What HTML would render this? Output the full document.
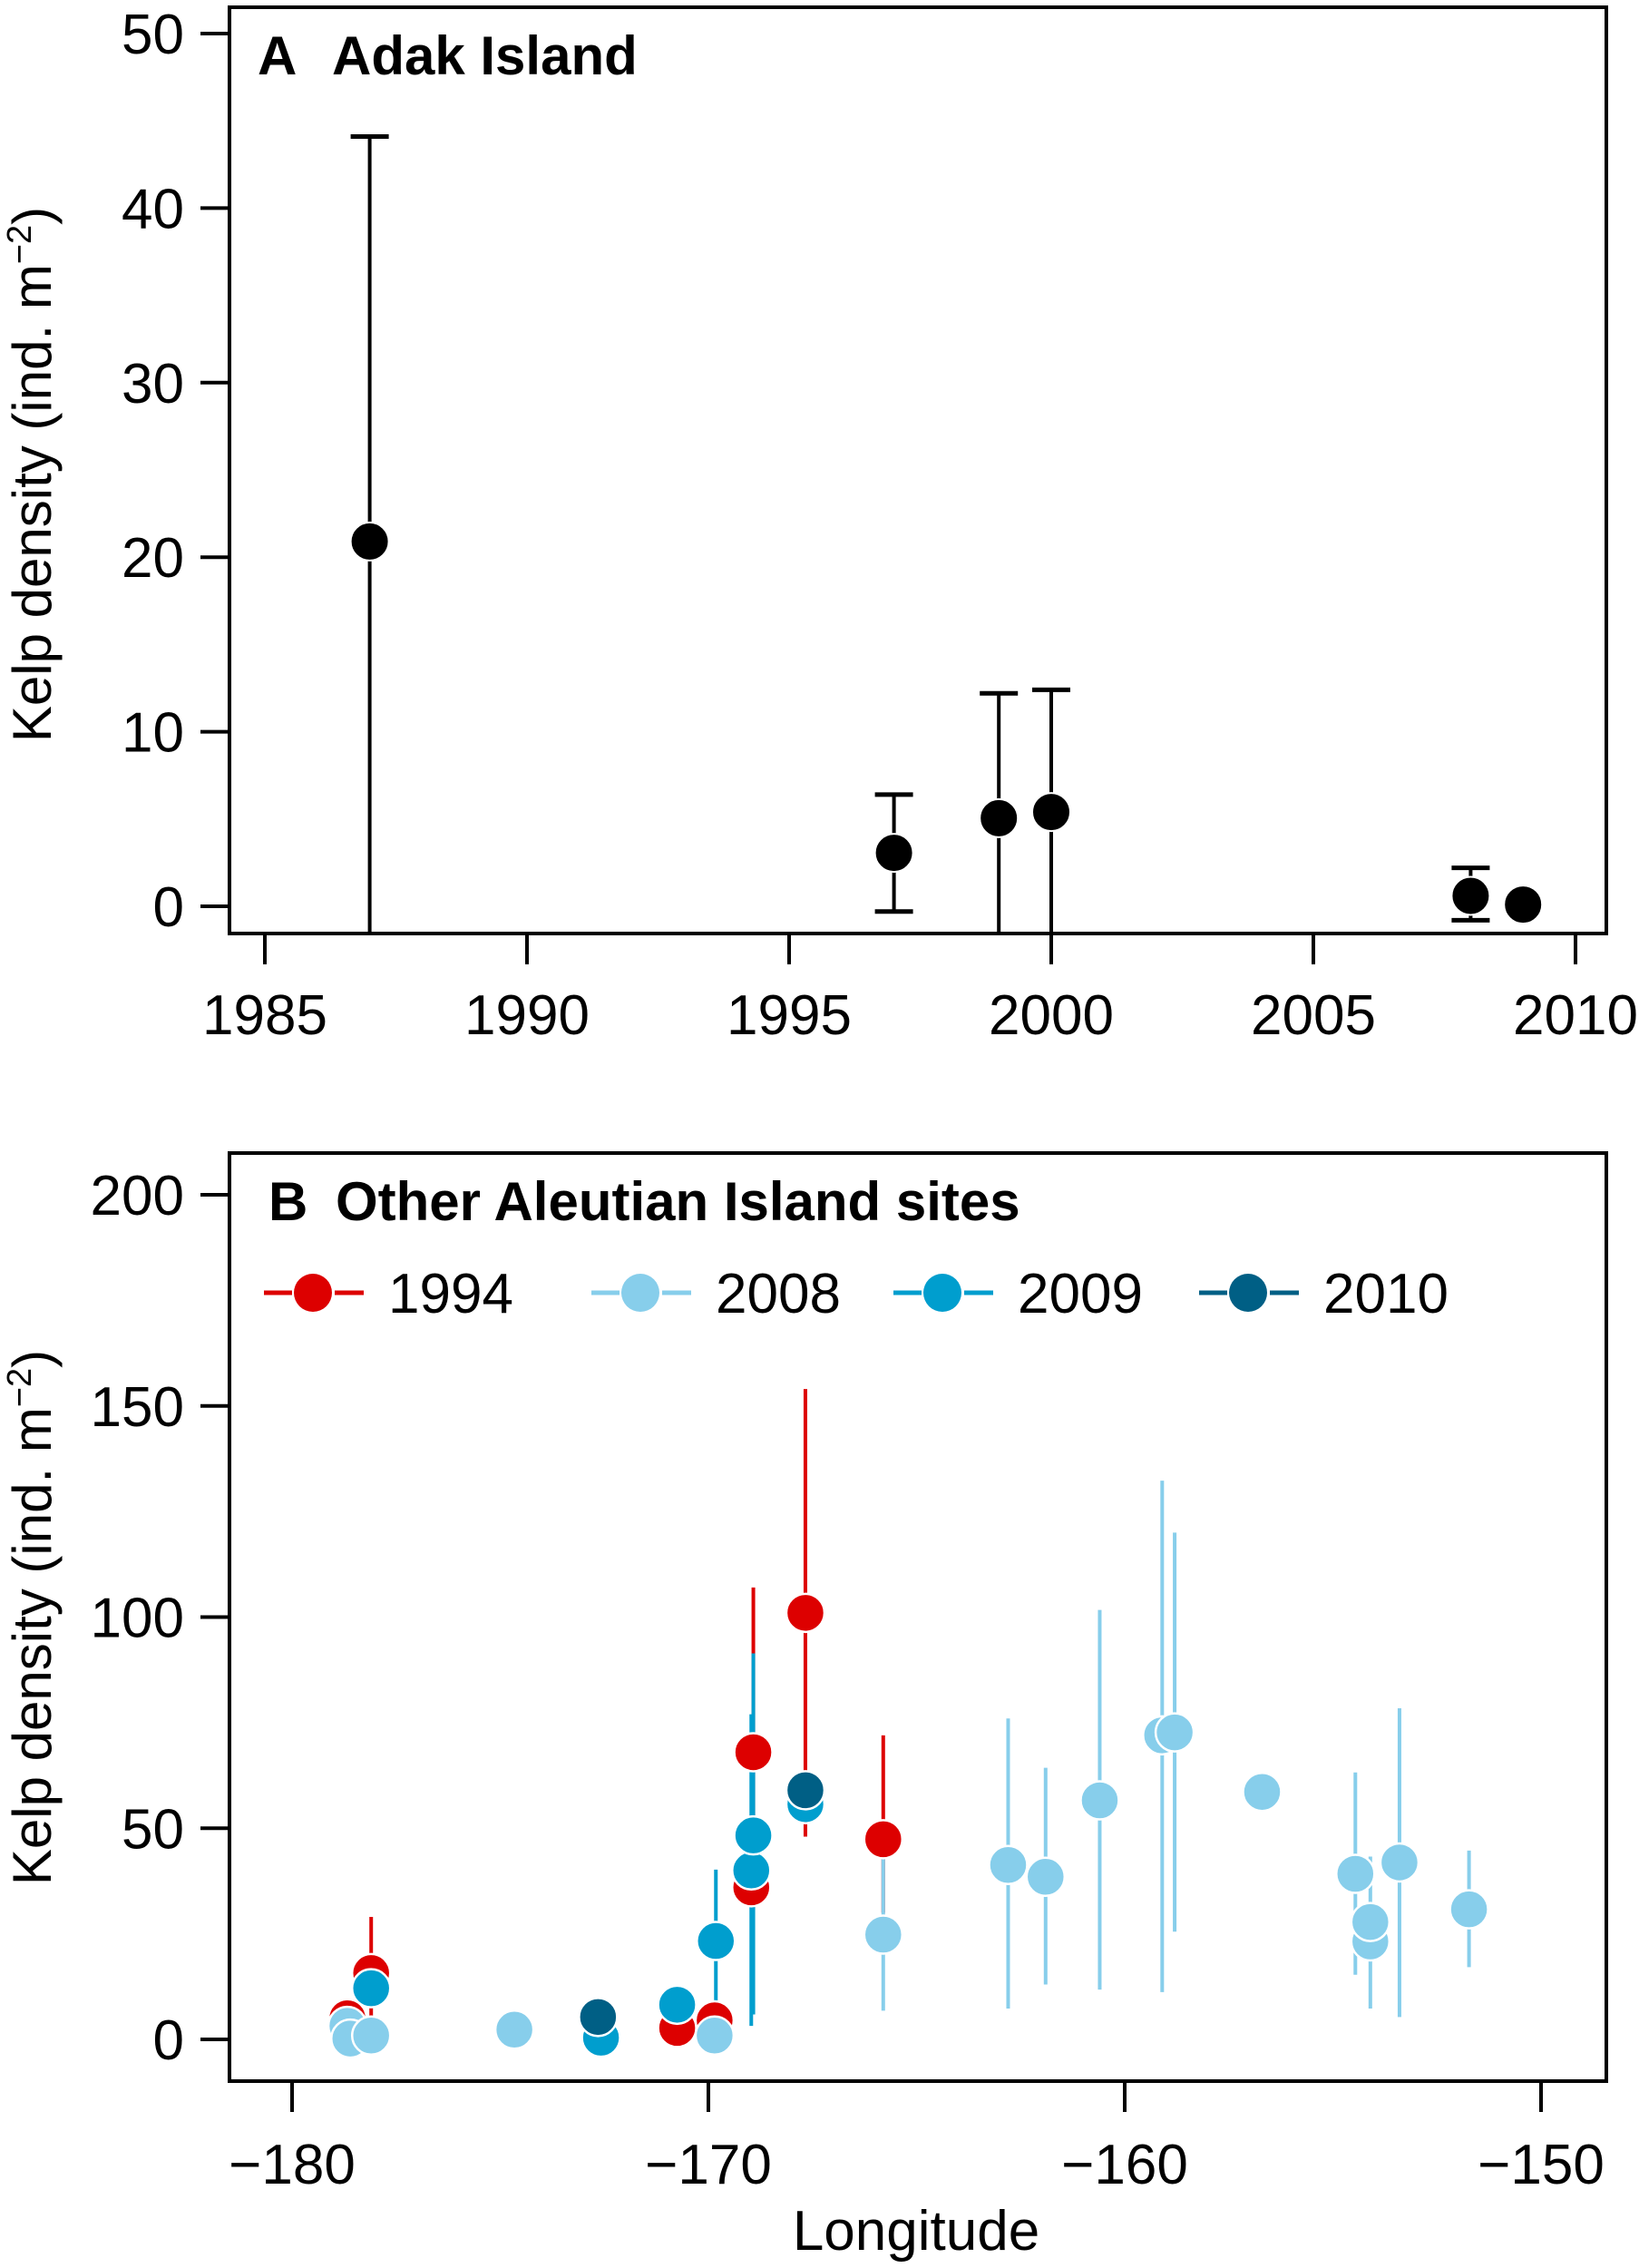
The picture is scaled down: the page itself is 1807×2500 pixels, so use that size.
<!DOCTYPE html>
<html><head><meta charset="utf-8"><style>
html,body{margin:0;padding:0;background:#fff}
svg{display:block}
text{font-family:"Liberation Sans",Arial,sans-serif;fill:#000}
</style></head><body>
<svg id="chart" width="1807" height="2500" viewBox="0 0 1807 2500" xmlns="http://www.w3.org/2000/svg">
<g id="pa"></g>
<g id="pb"></g>
</svg>
<script>
// Panel A data
const yearsA = [1987, 1997, 1999, 2000, 2008, 2009];
const meanA = [20.9, 3.06, 5.05, 5.4, 0.6, 0.1];
const upperA = [44.1, 6.4, 12.2, 12.4, 2.2, null];
const lowerA = [-5, -0.3, -5, -1.6, -0.8, null];
const xTicksA = [1985, 1990, 1995, 2000, 2005, 2010];
const yTicksA = [0, 10, 20, 30, 40, 50];

// Panel B data
const seriesNames = ['1994', '2008', '2009', '2010'];
const seriesColors = ['#dd0000', '#87ceeb', '#009ece', '#005f85'];
const lon1994 = [-178.67, -178.1, -170.75, -169.85, -168.97, -168.92, -167.67, -165.8];
const dens1994 = [5, 15.7, 2.7, 4.5, 36, 68, 101, 47.4];
const hi1994 = [null, 29, null, null, null, 107, 154, 72];
const lo1994 = [null, 5, null, null, null, 40, 48, 30];
const lon2008 = [-178.67, -178.6, -178.1, -174.66, -169.85, -165.8, -162.8, -161.9, -160.6, -159.1, -158.8, -156.7, -154.46, -154.1, -154.1, -153.4, -151.73];
const dens2008 = [3.2, 0.2, 0.9, 2.3, 0.9, 24.8, 41.3, 38.5, 56.6, 72, 72.7, 58.6, 39.2, 23.2, 27.8, 41.9, 30.8];
const hi2008 = [null, null, null, null, null, 43.3, 76, 64.3, 101.7, 132.3, 120, null, 63.2, 43.3, null, 78.4, 44.7];
const lo2008 = [null, null, null, null, null, 6.8, 7.3, 13, 11.8, 11.2, 25.5, null, 15.3, 7.3, null, 5.3, 17.1];
const lon2009 = [-178.1, -172.58, -170.75, -169.82, -168.97, -168.92, -167.67];
const dens2009 = [12.1, 0.4, 8.2, 23.3, 40, 48.3, 55.7];
const hi2009 = [null, null, null, 40.2, 77, 91.4, null];
const lo2009 = [null, null, null, 7.7, 3.2, 5.9, null];
const lon2010 = [-172.65, -167.67];
const dens2010 = [5.3, 59];
const hi2010 = [null, null];
const lo2010 = [null, null];
const xTicksB = [-180, -170, -160, -150];
const yTicksB = [0, 50, 100, 150, 200];

const NS = 'http://www.w3.org/2000/svg';
function mk(parent, tag, attrs, txt) {
  const e = document.createElementNS(NS, tag);
  for (const k in attrs) e.setAttribute(k, attrs[k]);
  if (txt !== undefined) e.textContent = txt;
  parent.appendChild(e);
  return e;
}
const xA = v => 292 + (v - 1985) * 57.8;
const yA = v => 999 - v * 19.24;
const xB = v => 322 + (v + 180) * 45.9;
const yB = v => 2248 - v * 4.655;
const boxA = {l: 253, r: 1771, t: 8, b: 1029};
const boxB = {l: 253, r: 1771, t: 1271, b: 2294};
const clampY = (y, box) => Math.max(box.t, Math.min(box.b, y));

function axes(g, box, xT, yT, xf, yf, xLabY, fmtX) {
  let e = mk(g, 'rect', {x: box.l, y: box.t, width: box.r - box.l, height: box.b - box.t, fill: 'none', stroke: '#000', 'stroke-width': 4});
  
  
  xT.forEach(v => {
    const x = xf(v);
    let t = mk(g, 'line', {x1: x, x2: x, y1: box.b, y2: box.b + 34, stroke: '#000', 'stroke-width': 4});
    
    
    let l = mk(g, 'text', {x: x, y: xLabY, 'font-size': 62, 'text-anchor': 'middle'}, fmtX(v));
    
    
  });
  yT.forEach(v => {
    const y = yf(v);
    let t = mk(g, 'line', {x1: box.l - 32, x2: box.l, y1: y, y2: y, stroke: '#000', 'stroke-width': 4});
    
    
    let l = mk(g, 'text', {x: 203, y: y + 22, 'font-size': 62, 'text-anchor': 'end'}, String(v));
    
    
  });
}
function yTitle(g, cy) {
  const t = mk(g, 'text', {x: 0, y: 0, 'font-size': 60, 'text-anchor': 'middle', transform: `translate(56,${cy}) rotate(-90)`});
  
  
  t.textContent = 'Kelp density (ind. m';
  mk(t, 'tspan', {dy: -22, 'font-size': 38}, '−2');
  mk(t, 'tspan', {dy: 22}, ')');
}

// Panel A
const pa = document.getElementById('pa');
axes(pa, boxA, xTicksA, yTicksA, xA, yA, 1140, v => String(v));
yTitle(pa, 523);
let ta = mk(pa, 'text', {x: 284, y: 82, 'font-size': 60, 'font-weight': 'bold'}, 'A');


ta = mk(pa, 'text', {x: 366, y: 82, 'font-size': 60, 'font-weight': 'bold'}, 'Adak Island');


yearsA.forEach((yr, i) => {
  const x = xA(yr);
  if (upperA[i] !== null) {
    const y1 = clampY(yA(upperA[i]), boxA), y2 = clampY(yA(lowerA[i]), boxA);
    let l = mk(pa, 'line', {x1: x, x2: x, y1: y1, y2: y2, stroke: '#000', 'stroke-width': 4});
    
    
    [upperA[i], lowerA[i]].forEach(v => {
      const y = yA(v);
      if (y >= boxA.t && y <= boxA.b) {
        let c = mk(pa, 'line', {x1: x - 21, x2: x + 21, y1: y, y2: y, stroke: '#000', 'stroke-width': 5});
        
        
      }
    });
  }
  let p = mk(pa, 'circle', {cx: x, cy: yA(meanA[i]), r: 21, fill: '#000', stroke: '#fff', 'stroke-width': 2});
  
  
});

// Panel B
const pb = document.getElementById('pb');
axes(pb, boxB, xTicksB, yTicksB, xB, yB, 2407, v => '−' + Math.abs(v));
yTitle(pb, 1783);
let tb = mk(pb, 'text', {x: 296, y: 1345, 'font-size': 60, 'font-weight': 'bold'}, 'B');


tb = mk(pb, 'text', {x: 370, y: 1345, 'font-size': 60, 'font-weight': 'bold'}, 'Other Aleutian Island sites');


let xl = mk(pb, 'text', {x: 1010, y: 2480, 'font-size': 62, 'text-anchor': 'middle'}, 'Longitude');



const lons = [lon1994, lon2008, lon2009, lon2010];
const dens = [dens1994, dens2008, dens2009, dens2010];
const his = [hi1994, hi2008, hi2009, hi2010];
const los = [lo1994, lo2008, lo2009, lo2010];
for (let s = 0; s < 4; s++) {
  lons[s].forEach((lo, i) => {
    if (his[s][i] === null) return;
    const x = xB(lo);
    let l = mk(pb, 'line', {x1: x, x2: x, y1: clampY(yB(his[s][i]), boxB), y2: clampY(yB(los[s][i]), boxB), stroke: seriesColors[s], 'stroke-width': 4});
    
    
  });
}
for (let s = 0; s < 4; s++) {
  lons[s].forEach((lo, i) => {
    let c = mk(pb, 'circle', {cx: xB(lo), cy: yB(dens[s][i]), r: 21, fill: seriesColors[s], stroke: '#fff', 'stroke-width': 2.5});
    
    
  });
}
const legX = [291, 652, 985, 1322];
const legY = 1425;
seriesNames.forEach((n, s) => {
  const g = mk(pb, 'g', {});
  
  
  const x0 = legX[s];
  mk(g, 'line', {x1: x0, x2: x0 + 31, y1: legY, y2: legY, stroke: seriesColors[s], 'stroke-width': 5});
  mk(g, 'line', {x1: x0 + 78, x2: x0 + 110, y1: legY, y2: legY, stroke: seriesColors[s], 'stroke-width': 5});
  mk(g, 'circle', {cx: x0 + 54, cy: legY, r: 21, fill: seriesColors[s]});
  mk(g, 'text', {x: x0 + 137, y: legY + 22, 'font-size': 62}, n);
});
</script>
</body></html>
